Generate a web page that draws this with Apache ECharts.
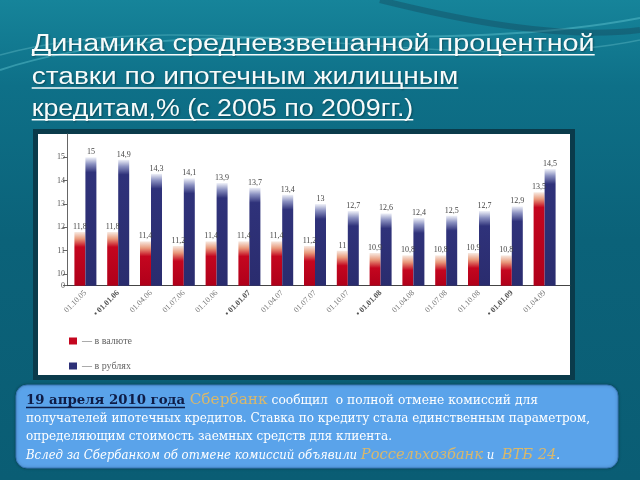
<!DOCTYPE html>
<html><head><meta charset="utf-8">
<script src="https://cdn.jsdelivr.net/npm/echarts@6/dist/echarts.min.js"></script>
<style>html,body{margin:0;padding:0;background:#0B6279;}#c{width:640px;height:480px;}</style>
</head><body><div id="c"></div>
<script>
// ---- data ----
const categories = ['01.10.05','• 01.01.06','01.04.06','01.07.06','01.10.06','• 01.01.07','01.04.07','01.07.07','01.10.07','• 01.01.08','01.04.08','01.07.08','01.10.08','• 01.01.09','01.04.09'];
const currencyRates = [11.8, 11.8, 11.4, 11.2, 11.4, 11.4, 11.4, 11.2, 11, 10.9, 10.8, 10.8, 10.9, 10.8, 13.5];
const rubleRates    = [15, 14.9, 14.3, 14.1, 13.9, 13.7, 13.4, 13, 12.7, 12.6, 12.4, 12.5, 12.7, 12.9, 14.5];
const seriesNames = ['в валюте', 'в рублях'];
const yTickValues = [9.5, 10, 11, 12, 13, 14, 15];
const yTickLabels = ['0', '10', '11', '12', '13', '14', '15'];
const titleLines = ['Динамика средневзвешанной процентной', 'ставки по ипотечным жилищным', 'кредитам,% (с 2005 по 2009гг.)'];

// ---- layout ----
const yMin = 9.5, yMax = 16;
const gridTop = 134, gridBottomY = 285.7;
const pxPerUnit = (gridBottomY - gridTop) / (yMax - yMin);

const mctx = document.createElement('canvas').getContext('2d');
function tw(text, font){ mctx.font = font; return mctx.measureText(text).width; }

function grad(v, light, mid, base, bottom){
  const h = Math.max(1, (v - yMin) * pxPerUnit);
  const f = Math.min(0.6, 15 / h);
  return new echarts.graphic.LinearGradient(0,0,0,1,[
    {offset:0, color:light},{offset:f*0.45, color:mid},{offset:f, color:base},{offset:1, color:bottom}]);
}
const fmt = p => String(p.value).replace('.', ',');

const chart = echarts.init(document.getElementById('c'), null, {renderer:'canvas'});

// ---- graphics: background, title, frame, text box ----
const g = [];
g.push({type:'rect', z:-20, shape:{x:0,y:0,width:640,height:480}, style:{fill:new echarts.graphic.LinearGradient(0,0,0,1,[{offset:0,color:'#16849A'},{offset:0.18,color:'#0E7088'},{offset:0.5,color:'#0B6279'},{offset:1,color:'#0A5D74'}])}});
g.push({type:'bezierCurve', z:-19, shape:{x1:0,y1:70,x2:640,y2:18,cpx1:180,cpy1:10,cpx2:420,cpy2:60}, style:{stroke:'rgba(120,220,230,0.35)', lineWidth:2, fill:null}});
g.push({type:'bezierCurve', z:-19, shape:{x1:0,y1:55,x2:640,y2:40,cpx1:200,cpy1:0,cpx2:450,cpy2:80}, style:{stroke:'rgba(150,230,235,0.25)', lineWidth:1.5, fill:null}});
g.push({type:'bezierCurve', z:-19, shape:{x1:380,y1:0,x2:640,y2:30,cpx1:460,cpy1:20,cpx2:560,cpy2:40}, style:{stroke:'rgba(20,60,80,0.35)', lineWidth:6, fill:null}});

// title
const titleFont = '23px "Liberation Sans"';
const titleWidths = [563, 426.6, 381.6];
const titleBaselines = [51.7, 85, 116.7];
titleLines.forEach((t, i) => {
  const sc = titleWidths[i] / tw(t, titleFont);
  g.push({type:'text', z:5, x:31.7, y:titleBaselines[i] - 0.32*23, scaleX:sc,
    style:{text:t, font:titleFont, fill:'#F6FBFB', verticalAlign:'middle', textShadowColor:'rgba(0,0,0,0.35)', textShadowBlur:2, textShadowOffsetX:1, textShadowOffsetY:1}});
  g.push({type:'line', z:5, shape:{x1:31.7, y1:titleBaselines[i]+3, x2:31.7+titleWidths[i], y2:titleBaselines[i]+3}, style:{stroke:'#F6FBFB', lineWidth:1.6}});
});

// chart frame
g.push({type:'rect', z:-5, shape:{x:33,y:129,width:542,height:251}, style:{fill:'#0A3B4B'}});
g.push({type:'rect', z:-4, shape:{x:38,y:134,width:532,height:241}, style:{fill:'#FFFFFF'}});

// text box
g.push({type:'rect', z:-5, shape:{x:16,y:385,width:602,height:83,r:11}, style:{fill:'#5AA3EA', stroke:'#3A78B8', lineWidth:1, shadowColor:'rgba(0,0,0,0.3)', shadowBlur:3}});

function addLine(x, baseline, segs, targetW){
  let total = 0;
  segs.forEach(s => { s.w = tw(s.t, s.font); total += s.w; });
  const sc = targetW / total;
  let cx = x;
  segs.forEach(s => {
    g.push({type:'text', z:5, x:cx, y:baseline - 0.32*s.size, scaleX:sc,
      style:{text:s.t, font:s.font, fill:s.c, verticalAlign:'middle'}});
    if (s.u) g.push({type:'line', z:5, shape:{x1:cx, y1:baseline+2.5, x2:cx + tw(s.u, s.font)*sc, y2:baseline+2.5}, style:{stroke:s.c, lineWidth:1.4}});
    cx += s.w * sc;
  });
}
const SF = '"DejaVu Serif"';
const white = '#FFFFFF', gold = '#D9B86C', navy = '#0E1C46';
addLine(26, 405, [
  {t:'19 апреля 2010 года ', font:'bold 13px '+SF, size:13, c:navy, u:'19 апреля 2010 года'},
  {t:'Сбербанк', font:'15px '+SF, size:15, c:gold},
  {t:' сообщил  о полной отмене комиссий для', font:'12px '+SF, size:12, c:white}
], 512);
addLine(26, 423, [{t:'получателей ипотечных кредитов. Ставка по кредиту стала единственным параметром,', font:'12px '+SF, size:12, c:white}], 564);
addLine(26, 441, [{t:'определяющим стоимость заемных средств для клиента.', font:'12px '+SF, size:12, c:white}], 366);
addLine(26, 460, [
  {t:'Вслед за Сбербанком об отмене комиссий объявили ', font:'italic 12px '+SF, size:12, c:white},
  {t:'Россельхозбанк', font:'italic 15px '+SF, size:15, c:gold},
  {t:' и  ', font:'italic 12px '+SF, size:12, c:white},
  {t:'ВТБ 24', font:'italic 15px '+SF, size:15, c:gold},
  {t:'.', font:'italic 12px '+SF, size:12, c:white}
], 534);

const labelStyle = {show:true, position:'top', distance:1, fontSize:8, color:'#444', fontFamily:'Liberation Serif', formatter:fmt};

chart.setOption({
  animation:false,
  graphic:{elements:g},
  grid:[
    {left:69, width:492, top:gridTop, bottom:480-gridBottomY},
    {left:67, right:70, top:gridTop, bottom:480-gridBottomY}
  ],
  legend:{
    orient:'vertical', left:64, top:331, itemWidth:8, itemHeight:7, itemGap:15, icon:'rect',
    formatter: n => '— ' + n,
    textStyle:{fontFamily:'Liberation Serif', fontSize:10, color:'#666'},
    data:seriesNames
  },
  xAxis:[
    {type:'category', gridIndex:0, data:categories, axisLine:{show:false}, axisTick:{show:false},
     axisLabel:{rotate:45, fontSize:8, color:'#777', fontFamily:'Liberation Serif', margin:6,
       formatter: v => v.startsWith('•') ? '{b|' + v + '}' : v,
       rich:{b:{fontSize:8, color:'#555', fontWeight:'bold', fontFamily:'Liberation Serif'}}}},
    {type:'value', gridIndex:1, min:0, max:1, axisLine:{show:true, onZero:false, lineStyle:{color:'#444', width:1}}, axisTick:{show:false}, axisLabel:{show:false}, splitLine:{show:false}}
  ],
  yAxis:[
    {type:'value', gridIndex:0, min:yMin, max:yMax, offset:2,
     axisLine:{show:true, lineStyle:{color:'#666'}},
     axisTick:{show:true, length:4, customValues:yTickValues, lineStyle:{color:'#666'}},
     axisLabel:{customValues:yTickValues, fontSize:8, color:'#555', fontFamily:'Liberation Serif', margin:2,
       formatter: v => { const i = yTickValues.indexOf(v); return i >= 0 ? yTickLabels[i] : ''; }},
     splitLine:{show:false}},
    {type:'value', gridIndex:1, show:false, min:0, max:1}
  ],
  series:[
    {name:seriesNames[0], type:'bar', xAxisIndex:0, yAxisIndex:0, barWidth:11, barGap:'0%',
     itemStyle:{color:'#C4061F'}, label:labelStyle,
     data: currencyRates.map(v => ({value:v, itemStyle:{color:grad(v,'#F7EAE2','#E99A7C','#C4061F','#B0001A')}}))},
    {name:seriesNames[1], type:'bar', xAxisIndex:0, yAxisIndex:0, barWidth:11, barGap:'0%',
     itemStyle:{color:'#2E3178'}, label:labelStyle,
     data: rubleRates.map(v => ({value:v, itemStyle:{color:grad(v,'#F0F2F9','#8A90C0','#2F327A','#2A2C6E')}}))}
  ]
});
</script></body></html>
